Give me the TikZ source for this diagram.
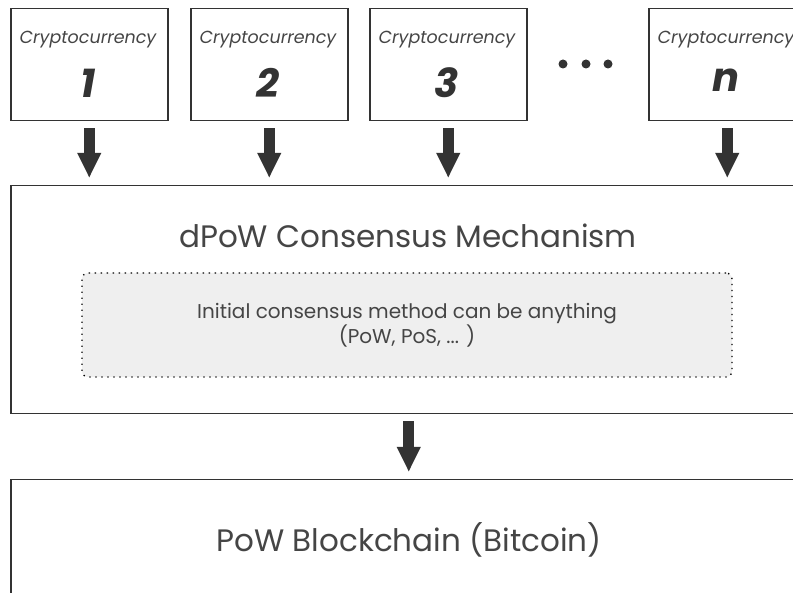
\documentclass[tikz,border=0pt]{standalone}
\usepackage{fontspec}
\setmainfont{Poppins}
\usetikzlibrary{arrows.meta,positioning}
\definecolor{ink}{HTML}{333333}
\definecolor{txt}{HTML}{454545}
\definecolor{shade}{HTML}{EFEFEF}

\begin{document}
\begin{tikzpicture}[x=1pt, y=-1pt, text=txt]
    % Node styles
    \tikzset{coin box/.style={draw=ink, line width=1.5pt, anchor=north west, minimum width=157pt, minimum height=112pt, inner sep=0pt},
             coin name/.style={font=\fontsize{17.5}{20}\selectfont\itshape},
             coin num/.style={font=\fontsize{40}{44}\selectfont\bfseries\itshape, text=ink},
             layer box/.style={draw=ink, line width=1.5pt, anchor=north west, minimum width=796pt, inner sep=0pt},
             layer title/.style={font=\fontsize{31}{34}\selectfont},
             fat arrow/.style={draw=ink, line width=11pt, -{Triangle[width=22pt,length=25pt]}, shorten <=7pt, shorten >=7pt}}

    \clip (0,0) rectangle (793,593);

    % Top row: cryptocurrencies
    \node[coin box] (coin1) at (10,8) {};
    \node[coin box] (coin2) at (190,8) {};
    \node[coin box] (coin3) at (369,8) {};
    \node[coin box] (coinn) at (648,8) {};
    \node[coin name] at (88,40) {Cryptocurrency};
    \node[coin num] at (88,83) {1};
    \node[coin name] at (268,40) {Cryptocurrency};
    \node[coin num] at (268,83) {2};
    \node[coin name] at (447,40) {Cryptocurrency};
    \node[coin num] at (447,83) {3};
    \node[coin name] at (726,40) {Cryptocurrency};
    \node[coin num] at (726,80) {n};

    % Ellipsis between 3 and n
    \fill[ink] (563,64) circle (4.5) (586,64) circle (4.5) (608,64) circle (4.5);

    % Middle layer - dPoW
    \node[layer box, minimum height=228pt] (dpow) at (10,185) {};
    \node[layer title] (dpowtitle) at (408,236) {dPoW Consensus Mechanism};
    \node[draw=black, fill=shade, line width=1.3pt, dash pattern=on 1.3pt off 4.7pt, rounded corners=6pt,
          minimum width=650pt, minimum height=104pt, align=center,
          font=\fontsize{20}{24}\selectfont] (initial) at (407,325)
          {Initial consensus method can be anything\\(PoW, PoS, ... )};

    % Bottom layer - Bitcoin
    \node[layer box, minimum height=140pt] (powchain) at (10,479) {};
    \node[layer title] (powtitle) at (409,540) {PoW Blockchain (Bitcoin)};

    % Arrows into dPoW
    \draw[fat arrow] (coin1.south) -- (coin1.south |- dpow.north);
    \draw[fat arrow] (coin2.south) -- (coin2.south |- dpow.north);
    \draw[fat arrow] (coin3.south) -- (coin3.south |- dpow.north);
    \draw[fat arrow] (coinn.south) -- (coinn.south |- dpow.north);

    % Arrow down to the PoW chain
    \draw[fat arrow] (dpow.south) -- (powchain.north);
\end{tikzpicture}
\end{document}
